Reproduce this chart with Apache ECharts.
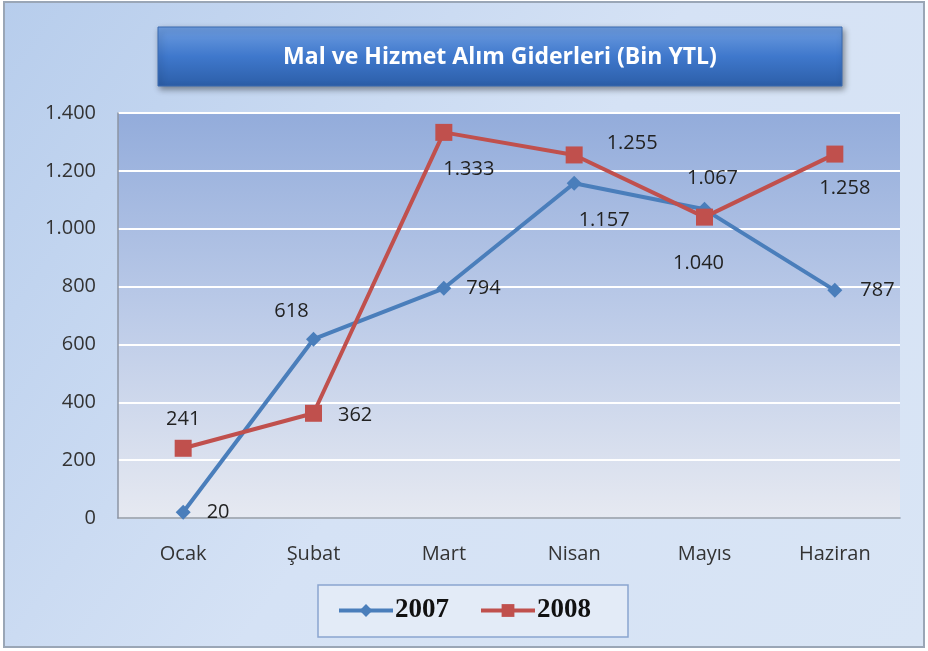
<!DOCTYPE html>
<html>
<head>
<meta charset="utf-8">
<script src="https://cdn.jsdelivr.net/npm/echarts@6/dist/echarts.min.js"></script>
<style>
  html, body { margin: 0; padding: 0; background: #fff; }
  #chart { width: 928px; height: 651px; }
</style>
</head>
<body>
<div id="chart"></div>
<script>
// data
const months = ['Ocak', 'Şubat', 'Mart', 'Nisan', 'Mayıs', 'Haziran']
const values2007 = [20, 618, 794, 1157, 1067, 787]
const values2008 = [241, 362, 1333, 1255, 1040, 1258]
// label placement per point
const labelPos2007 = ['right', 'top', 'right', 'bottom', 'top', 'right']
const labelPos2008 = ['top', 'right', 'bottom', 'right', 'bottom', 'bottom']

const fmt = v => String(v).replace(/\B(?=(\d{3})+(?!\d))/g, '.')

const chart = echarts.init(document.getElementById('chart'))

const toData = (vals, pos, offsets) => vals.map((v, i) => ({
  value: v,
  label: { position: pos[i], offset: offsets[i] || [0, 0] }
}))

const labelStyle = {
  show: true,
  color: '#222',
  fontSize: 20,
  fontFamily: 'Open Sans',
  formatter: p => fmt(p.value),
  distance: 10
}

chart.setOption({
  animation: false,
  graphic: [
    {
      type: 'rect', z: -10, silent: true,
      shape: { x: 4, y: 2, width: 920, height: 645 },
      style: {
        fill: new echarts.graphic.LinearGradient(0, 0, 1, 1, [
          { offset: 0, color: '#b7cdec' },
          { offset: 0.5, color: '#d5e2f5' },
          { offset: 1, color: '#d9e5f5' }
        ]),
        stroke: '#9aa6b6', lineWidth: 2
      }
    },
    {
      type: 'rect', z: 5, silent: true,
      shape: { x: 158, y: 27, width: 684, height: 59 },
      style: {
        fill: new echarts.graphic.LinearGradient(0, 0, 0, 1, [
          { offset: 0, color: '#6e9de0' },
          { offset: 0.5, color: '#3f78cc' },
          { offset: 1, color: '#2c5ea8' }
        ]),
        stroke: '#3a6ab0', lineWidth: 1,
        shadowBlur: 6, shadowOffsetX: 2, shadowOffsetY: 3, shadowColor: 'rgba(0,0,0,0.4)'
      }
    },
    {
      type: 'text', z: 6, silent: true,
      x: 500, y: 57,
      style: {
        text: 'Mal ve Hizmet Alım Giderleri (Bin YTL)',
        fill: '#fff', fontSize: 23, fontWeight: 'bold',
        fontFamily: 'Open Sans', align: 'center', verticalAlign: 'middle'
      }
    },
    {
      type: 'rect', z: 1, silent: true,
      shape: { x: 318, y: 585, width: 310, height: 52 },
      style: { fill: '#e3ebf7', stroke: '#8aa5cf', lineWidth: 1.5 }
    }
  ],
  grid: {
    left: 118, right: 28, top: 113, bottom: 133,
    show: true,
    borderWidth: 0,
    backgroundColor: new echarts.graphic.LinearGradient(0, 0, 0, 1, [
      { offset: 0, color: '#93acdb' },
      { offset: 0.5, color: '#bccbe8' },
      { offset: 1, color: '#e6e9f1' }
    ])
  },
  legend: {
    z: 10,
    bottom: 22,
    left: 'center',
    itemWidth: 54,
    itemHeight: 16,
    itemGap: 30,
    lineStyle: { width: 4 },
    textStyle: { fontFamily: 'Liberation Serif', fontWeight: 'bold', fontSize: 27, color: '#111', padding: [0, 0, 0, -3] },
    data: ['2007', '2008']
  },
  xAxis: {
    type: 'category',
    data: months,
    boundaryGap: true,
    axisLine: { lineStyle: { color: '#8c95a3', width: 1.5 } },
    axisTick: { show: false },
    axisLabel: { color: '#333', fontSize: 20, fontFamily: 'Open Sans', margin: 26 }
  },
  yAxis: {
    type: 'value',
    min: 0, max: 1400, interval: 200,
    axisLine: { show: true, lineStyle: { color: '#8c95a3', width: 1.5 } },
    axisTick: { show: false },
    axisLabel: { color: '#333', fontSize: 20, fontFamily: 'Open Sans', margin: 22, formatter: fmt },
    splitLine: { lineStyle: { color: '#ffffff', width: 2 } }
  },
  series: [
    {
      name: '2007',
      type: 'line',
      symbol: 'diamond',
      symbolSize: 15,
      itemStyle: { color: '#4a7ebb' },
      lineStyle: { color: '#4a7ebb', width: 4 },
      label: labelStyle,
      data: toData(values2007, labelPos2007, [[6, 0], [-22, 0], [5, 0], [30, 10], [8, -4], [8, 0]])
    },
    {
      name: '2008',
      type: 'line',
      symbol: 'rect',
      symbolSize: 17,
      itemStyle: { color: '#c0504d' },
      lineStyle: { color: '#c0504d', width: 4 },
      label: labelStyle,
      data: toData(values2008, labelPos2008, [[0, 0], [6, 2], [25, 8], [14, -12], [-6, 18], [10, 6]])
    }
  ]
})
</script>
</body>
</html>
